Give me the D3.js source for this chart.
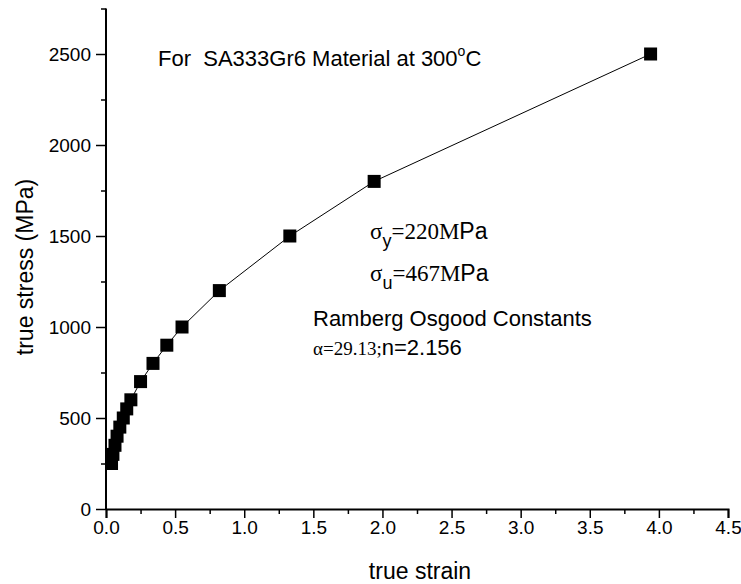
<!DOCTYPE html>
<html>
<head>
<meta charset="utf-8">
<script src="https://cdn.jsdelivr.net/npm/d3@7"></script>
<style>
  body { margin: 0; background: #fff; }
  text { font-family: "Liberation Sans", Arial, sans-serif; fill: #000; white-space: pre; }
  .serif { font-family: "Liberation Serif", "Times New Roman", serif; }
</style>
</head>
<body>
<div id="chart"></div>
<script>
// true stress - true strain data
const strain = [0.04, 0.05, 0.065, 0.08, 0.1, 0.125, 0.15, 0.18, 0.25, 0.34, 0.44, 0.55, 0.82, 1.33, 1.94, 3.94];
const stress = [250, 300, 350, 400, 450, 500, 550, 600, 700, 800, 900, 1000, 1200, 1500, 1800, 2500];
const xTicks = [0, 0.5, 1.0, 1.5, 2.0, 2.5, 3.0, 3.5, 4.0, 4.5];
const yTicks = [0, 500, 1000, 1500, 2000, 2500];

const width = 741, height = 584;

const points = strain.map((s, i) => ({ x: s, y: stress[i] }));

var svg = d3.select('#chart')
    .append('svg')
    .attr('width', width)
    .attr('height', height);

var x = d3.scaleLinear()
    .domain([0, 4.5])
    .range([106, 728]);

var y = d3.scaleLinear()
    .domain([0, 2500])
    .range([509, 54]);

// minor ticks first, then major ones with labels
svg.append('g')
    .attr('transform', `translate(0,${y(0)})`)
    .call(d3.axisBottom(x).tickValues(d3.range(0.25, 4.5, 0.5)).tickSize(5).tickFormat(''))
    .call(g => g.select('.domain').remove())
    .call(g => g.selectAll('.tick line').attr('stroke-width', 1.5));

svg.append('g')
    .attr('transform', `translate(0,${y(0)})`)
    .call(d3.axisBottom(x).tickValues(xTicks).tickSize(9).tickPadding(3).tickFormat(d3.format('.1f')))
    .call(g => g.select('.domain').attr('stroke-width', 2))
    .call(g => g.selectAll('.tick line').attr('stroke-width', 1.5))
    .call(g => g.selectAll('text').attr('font-size', 19).attr('fill', '#000'));

svg.append('g')
    .attr('transform', `translate(${x(0)},0)`)
    .call(d3.axisLeft(y).tickValues(d3.range(250, 2800, 500)).tickSize(5).tickFormat(''))
    .call(g => g.select('.domain').remove())
    .call(g => g.selectAll('.tick line').attr('stroke-width', 1.5));

svg.append('g')
    .attr('transform', `translate(${x(0)},0)`)
    .call(d3.axisLeft(y).tickValues(yTicks).tickSize(10).tickPadding(5).tickFormat(d3.format('d')))
    .call(g => g.select('.domain').remove())
    .call(g => g.selectAll('.tick line').attr('stroke-width', 1.5))
    .call(g => g.selectAll('text').attr('font-size', 19).attr('fill', '#000'));

// y axis line runs up to the last minor tick
svg.append('line')
    .attr('x1', x(0)).attr('x2', x(0))
    .attr('y1', y(0)).attr('y2', y(2750))
    .attr('stroke', '#000')
    .attr('stroke-width', 2);

// connecting line
var line = d3.line()
    .x(d => x(d.x))
    .y(d => y(d.y));

svg.append('path')
    .datum(points)
    .attr('d', line)
    .attr('fill', 'none')
    .attr('stroke', '#000')
    .attr('stroke-width', 1);

const sq = 13;
svg.selectAll('.pt')
    .data(points)
    .join('rect')
    .classed('pt', true)
    .attr('x', d => x(d.x) - sq / 2)
    .attr('y', d => y(d.y) - sq / 2)
    .attr('width', sq)
    .attr('height', sq)
    .attr('fill', '#000');

// axis titles
svg.append('text')
    .attr('x', 420)
    .attr('y', 579)
    .attr('text-anchor', 'middle')
    .attr('font-size', 23)
    .text('true strain');

svg.append('text')
    .attr('transform', 'translate(33,267) rotate(-90)')
    .attr('text-anchor', 'middle')
    .attr('font-size', 23)
    .text('true stress (MPa)');

// title (double space kept as in the original label)
var title = svg.append('text')
    .attr('x', 158)
    .attr('y', 66)
    .attr('font-size', 22);
title.append('tspan').text('For  SA333Gr6 Material at 300');
title.append('tspan').attr('font-size', 14).attr('dy', -10).text('o');
title.append('tspan').attr('dy', 10).text('C');

// yield / ultimate strength annotations
function sigmaLabel(yPos, sub, val) {
    let t = svg.append('text')
        .attr('x', 370)
        .attr('y', yPos)
        .attr('font-size', 23);
    t.append('tspan').attr('class', 'serif').text('σ');
    t.append('tspan').attr('font-size', 18).attr('dy', 8).text(sub);
    t.append('tspan').attr('class', 'serif').attr('dy', -8).text('=' + val + 'M');
    t.append('tspan').text('Pa');
}
sigmaLabel(239, 'y', '220');
sigmaLabel(281, 'u', '467');

svg.append('text')
    .attr('x', 313)
    .attr('y', 326)
    .attr('font-size', 22)
    .text('Ramberg Osgood Constants');

var ro = svg.append('text')
    .attr('x', 313)
    .attr('y', 355)
    .attr('font-size', 22);
ro.append('tspan').attr('class', 'serif').attr('font-size', 19).text('α=29.13;');
ro.append('tspan').text('n=2.156');
</script>
</body>
</html>
